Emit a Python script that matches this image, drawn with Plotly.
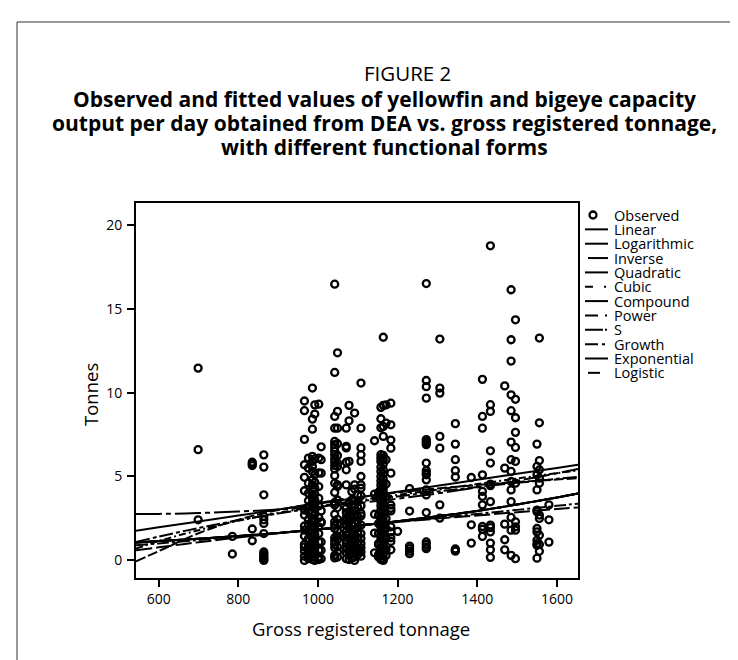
import plotly.graph_objects as go

# ---------------- observed data (GRT, tonnes/day) per vessel column ----------------
v699 = [11.46, 6.6, 2.42]
v785 = [1.43, 0.38]
v835 = [5.85, 5.75, 5.65, 1.87, 1.17]
v864 = [6.29, 5.56, 3.91, 2.62, 2.42, 2.2, 1.6, 0.5, 0.38, 0.27, 0.16, 0.06, 0.0]
v966 = [9.5, 8.92, 7.21, 5.7, 4.95, 4.15, 3.0, 2.7, 2.05, 1.8, 1.45, 0.95, 0.8, 0.55, 0.25, 0.0]
v976 = [6.1, 5.5, 4.6, 4.0, 3.55, 3.2, 2.9, 2.45, 2.15, 1.75, 1.3, 0.9, 0.65, 0.35, 0.1]
v986 = [10.27, 8.42, 7.82, 6.2, 5.9, 5.6, 5.3, 4.8, 4.5, 4.2, 3.9, 3.7, 3.45, 3.3, 2.85, 2.5,
        2.3, 2.05, 1.7, 1.45, 1.2, 0.95, 0.7, 0.45, 0.2, 0.05]
v992 = [9.27, 8.72, 6.05, 5.1, 4.65, 4.3, 3.95, 3.6, 3.35, 3.05, 2.75, 2.4, 2.1, 1.85, 1.55,
        1.25, 1.0, 0.75, 0.5, 0.25, 0.0]
v1002 = [9.31, 6.1, 5.22, 4.4, 3.7, 3.25, 2.55, 2.0, 1.6, 1.1, 0.6, 0.2, 0.05]
v1008 = [6.77, 6.0, 5.2, 2.95, 2.3, 2.25, 1.1, 0.6, 0.1]
v1042 = [16.46, 11.2, 8.58, 7.88, 7.09, 6.9, 6.7, 6.5, 6.3, 6.05, 5.85, 5.65, 5.45, 5.05, 4.6,
         4.05, 3.45, 3.3, 2.75, 2.3, 2.1, 1.9, 1.35, 1.15, 0.95, 0.75, 0.3, 0.15]
v1049 = [12.37, 8.88, 7.88, 6.95, 6.25, 5.8, 5.6, 4.5, 4.4, 3.6, 3.15, 2.45, 2.2, 1.75, 1.45,
         1.25, 0.8, 0.5, 0.2]
v1071 = [7.88, 6.8, 6.7, 5.85, 5.4, 4.5, 3.1, 2.85, 2.55, 2.35, 2.1, 1.7, 1.5, 1.2, 1.0, 0.7,
         0.45, 0.1]
v1078 = [9.24, 8.32, 5.9, 3.4, 2.9, 2.6, 2.3, 1.95, 1.55, 1.3, 0.85, 0.6, 0.3, 0.05]
v1085 = [4.1, 3.6, 3.3, 2.75, 2.45, 2.1, 1.8, 1.4, 1.05, 0.75, 0.4, 0.15]
v1092 = [8.78, 4.5, 4.25, 3.55, 3.3, 2.95, 2.7, 2.2, 1.85, 1.55, 1.25, 1.0, 0.7, 0.5, 0.2, 0.0]
v1100 = [3.9, 3.5, 3.15, 2.6, 2.35, 1.95, 1.65, 1.35, 1.05, 0.65, 0.35]
v1108 = [10.57, 7.88, 6.7, 6.3, 5.9, 5.0, 4.5, 4.3, 3.85, 3.25, 2.8, 2.65, 2.1, 1.6, 1.3, 1.0,
         0.75, 0.5, 0.25]
v1142 = [7.13, 3.95, 2.75, 1.63, 0.45]
v1152 = [4.05, 3.9, 2.7, 2.2, 1.6, 1.0, 0.95, 0.35, 0.2]
v1158 = [9.12, 8.44, 7.9, 6.3, 6.1, 5.9, 5.55, 5.3, 5.0, 4.75, 4.5, 4.25, 4.0, 3.75, 3.5, 3.25,
         3.0, 2.75, 2.5, 2.25, 2.0, 1.75, 1.5, 1.25, 1.0, 0.75, 0.5, 0.25, 0.05]
v1164 = [13.3, 9.24, 7.98, 7.39, 6.25, 6.0, 5.75, 5.4, 5.15, 4.85, 4.6, 4.35, 4.1, 3.85, 3.6,
         3.35, 3.1, 2.85, 2.6, 2.35, 2.1, 1.85, 1.6, 1.35, 1.1, 0.85, 0.6, 0.35, 0.1, 0.0]
v1171 = [9.27, 8.18, 6.0, 4.55, 3.8, 2.5, 1.9, 1.3, 0.65, 0.3]
v1183 = [9.37, 8.08, 7.17, 6.69, 5.2, 3.3, 3.1, 2.95, 2.0, 1.7, 1.35, 1.13, 0.63]
v1200 = [1.73]
v1230 = [4.28, 2.94, 0.85, 0.7, 0.55, 0.4]
v1272 = [16.5, 10.72, 10.35, 9.67, 7.2, 7.1, 7.0, 6.9, 5.8, 5.35, 5.2, 5.1, 4.8, 4.2, 3.9, 2.85,
         1.1, 0.95, 0.8, 0.7]
v1306 = [13.19, 10.27, 9.97, 7.39, 6.69, 3.31, 2.52]
v1345 = [8.15, 6.93, 6.0, 5.35, 4.97, 0.68, 0.6, 0.55]
v1385 = [4.94, 2.12, 1.03]
v1413 = [10.79, 8.58, 7.88, 5.1, 4.11, 3.81, 3.31, 2.02, 1.85, 1.43]
v1433 = [18.75, 9.28, 8.88, 6.53, 5.8, 4.55, 4.45, 3.5, 2.1, 1.95, 1.7, 1.03, 0.63, 0.18]
v1469 = [10.4, 5.5, 2.16, 1.23, 0.63]
v1485 = [16.13, 13.15, 11.88, 9.87, 8.92, 7.05, 6.0, 5.3, 4.7, 4.2, 3.5, 2.56, 1.8, 0.3]
v1496 = [14.34, 9.6, 8.5, 7.63, 6.73, 5.9, 4.6, 2.3, 2.0, 1.8, 0.1]
v1550 = [6.93, 5.6, 5.1, 4.2, 3.0, 2.9, 1.9, 1.7, 1.2, 1.0, 0.9, 0.13]
v1556 = [13.25, 8.2, 5.95, 5.4, 4.9, 4.6, 2.7, 2.5, 1.5, 0.95, 0.54]
v1580 = [3.31, 2.42, 1.09]

vessel_grt = [699, 785, 835, 864, 966, 976, 986, 992, 1002, 1008, 1042, 1049, 1071, 1078,
              1085, 1092, 1100, 1108, 1142, 1152, 1158, 1164, 1171, 1183, 1200, 1230, 1272,
              1306, 1345, 1385, 1413, 1433, 1469, 1485, 1496, 1550, 1556, 1580]
vessel_obs = [v699, v785, v835, v864, v966, v976, v986, v992, v1002, v1008, v1042, v1049,
              v1071, v1078, v1085, v1092, v1100, v1108, v1142, v1152, v1158, v1164, v1171,
              v1183, v1200, v1230, v1272, v1306, v1345, v1385, v1413, v1433, v1469, v1485,
              v1496, v1550, v1556, v1580]

# ---------------- fitted curves ----------------
fit_x = [543, 600, 700, 800, 900, 1000, 1100, 1200, 1300, 1400, 1500, 1600, 1653]
linear = [1.77, 1.97, 2.32, 2.67, 3.03, 3.38, 3.74, 4.09, 4.45, 4.80, 5.16, 5.51, 5.70]
logarithmic = [1.10, 1.42, 1.93, 2.39, 2.79, 3.16, 3.50, 3.81, 4.10, 4.37, 4.62, 4.86, 4.98]
inverse = [-0.05, 0.55, 1.62, 2.43, 3.00, 3.42, 3.77, 4.05, 4.29, 4.49, 4.67, 4.82, 4.90]
quadratic = [2.76, 2.77, 2.82, 2.91, 3.03, 3.20, 3.42, 3.68, 3.99, 4.35, 4.75, 5.19, 5.45]
cubic = [0.70, 1.15, 1.80, 2.36, 2.83, 3.22, 3.57, 3.90, 4.22, 4.55, 4.88, 5.20, 5.36]
compound = [1.07, 1.15, 1.29, 1.45, 1.63, 1.84, 2.07, 2.33, 2.63, 2.95, 3.33, 3.75, 3.99]
power = [0.90, 1.01, 1.21, 1.42, 1.63, 1.85, 2.07, 2.30, 2.53, 2.77, 3.01, 3.25, 3.38]
s_curve = [0.60, 0.78, 1.08, 1.36, 1.62, 1.86, 2.08, 2.29, 2.49, 2.68, 2.87, 3.06, 3.15]
growth = [1.07, 1.15, 1.29, 1.45, 1.63, 1.84, 2.07, 2.33, 2.63, 2.95, 3.33, 3.75, 3.99]
exponential = [1.07, 1.15, 1.29, 1.45, 1.63, 1.84, 2.07, 2.33, 2.63, 2.95, 3.33, 3.75, 3.99]
logistic = [1.07, 1.15, 1.29, 1.45, 1.63, 1.84, 2.07, 2.33, 2.63, 2.95, 3.33, 3.75, 3.99]

model_names = ["Linear", "Logarithmic", "Inverse", "Quadratic", "Cubic", "Compound",
               "Power", "S", "Growth", "Exponential", "Logistic"]
model_values = [linear, logarithmic, inverse, quadratic, cubic, compound, power, s_curve,
                growth, exponential, logistic]
plot_dash = ["solid", "14px,3px,4px,3px", "10px,3px", "26px,4px,5px,4px", "7px,3px,2px,3px",
             "solid", "12px,3px,3px,3px", "16px,4px", "9px,3px,4px,3px", "solid", "20px,5px"]
legend_dash = ["solid", "solid", "solid", "solid", "8px,11px,2px,3px", "solid",
               "13px,7px,2px,3px", "18px,2px,2px,3px", "13px,4px,3px,3px", "solid", "solid"]

x_ticks = [600, 800, 1000, 1200, 1400, 1600]
y_ticks = [0, 5, 10, 15, 20]

FONT = "Open Sans"

obs_x, obs_y = [], []
for g, ys in zip(vessel_grt, vessel_obs):
    obs_x += [g] * len(ys)
    obs_y += ys

fig = go.Figure()
for name, vals, dash in zip(model_names, model_values, plot_dash):
    fig.add_trace(go.Scatter(x=fit_x, y=vals, mode="lines", name=name,
                             line=dict(color="black", width=2, dash=dash, shape="spline"),
                             showlegend=False))
fig.add_trace(go.Scatter(x=obs_x, y=obs_y, mode="markers", name="Observed",
                         marker=dict(symbol="circle-open", size=7, color="black",
                                     line=dict(width=2.3, color="black")),
                         showlegend=False))

# plot area geometry (px)
L, R, T, B = 128, 570, 195, 570
W, H = R - L, B - T


def px(x):
    return (x - L) / W


def py(y):
    return (B - y) / H


annotations = []
shapes = []

# outer border
shapes.append(dict(type="rect", xref="paper", yref="paper", x0=px(9), x1=px(760),
                   y0=py(690), y1=py(14), line=dict(color="#333", width=1)))

# titles
annotations.append(dict(text="FIGURE 2", x=px(399), y=py(65), xref="paper", yref="paper",
                        showarrow=False, xanchor="center", yanchor="middle",
                        font=dict(family=FONT, size=20.5, color="black")))
title_lines = ["Observed and fitted values of yellowfin and bigeye capacity",
               "output per day obtained from DEA vs. gross registered tonnage,",
               "with different functional forms"]
for i, t in enumerate(title_lines):
    annotations.append(dict(text="<b>" + t + "</b>", x=px(376), y=py(91 + 24 * i),
                            xref="paper", yref="paper", showarrow=False,
                            xanchor="center", yanchor="middle",
                            font=dict(family=FONT, size=21, color="black")))

# axis titles
annotations.append(dict(text="Gross registered tonnage", x=px(353), y=py(620), xref="paper",
                        yref="paper", showarrow=False, xanchor="center", yanchor="middle",
                        font=dict(family=FONT, size=18.5, color="black")))
annotations.append(dict(text="Tonnes", x=px(82), y=py(387), xref="paper", yref="paper",
                        showarrow=False, xanchor="center", yanchor="middle", textangle=-90,
                        font=dict(family=FONT, size=18.5, color="black")))

# custom legend
leg_y0, leg_dy = 207, 14.35
annotations.append(dict(text="Observed", x=px(604), y=py(leg_y0), xref="paper", yref="paper",
                        showarrow=False, xanchor="left", yanchor="middle",
                        font=dict(family=FONT, size=14.5, color="black")))
r = 3.5
shapes.append(dict(type="circle", xref="paper", yref="paper", x0=px(585 - r), x1=px(585 + r),
                   y0=py(leg_y0 + r), y1=py(leg_y0 - r), line=dict(color="black", width=2.3)))
for i, (name, dash) in enumerate(zip(model_names, legend_dash)):
    yy = leg_y0 + leg_dy * (i + 1)
    annotations.append(dict(text=name, x=px(604), y=py(yy), xref="paper", yref="paper",
                            showarrow=False, xanchor="left", yanchor="middle",
                            font=dict(family=FONT, size=14.5, color="black")))
    x0, x1 = 577, 600
    if name == "Inverse":
        x0 = 580
    if name == "Logistic":
        x0, x1 = 580, 592
    shapes.append(dict(type="line", xref="paper", yref="paper", x0=px(x0), x1=px(x1),
                       y0=py(yy), y1=py(yy), line=dict(color="black", width=2, dash=dash)))

fig.update_layout(
    width=738, height=660,
    margin=dict(l=L, r=738 - R, t=T, b=660 - B, pad=0),
    paper_bgcolor="white", plot_bgcolor="white",
    showlegend=False,
    font=dict(family=FONT, color="black"),
    annotations=annotations, shapes=shapes,
    xaxis=dict(range=[543, 1653], tickvals=x_ticks, ticks="outside", ticklen=7, tickwidth=2,
               tickcolor="black", showline=True, linewidth=2, linecolor="black", mirror=True,
               showgrid=False, zeroline=False, tickfont=dict(family=FONT, size=14)),
    yaxis=dict(range=[-1.05, 21.3], tickvals=y_ticks, ticks="outside", ticklen=7, tickwidth=2,
               tickcolor="black", showline=True, linewidth=2, linecolor="black", mirror=True,
               showgrid=False, zeroline=False, tickfont=dict(family=FONT, size=14),
               ticklabelstandoff=2),
)

fig.write_html("out.html")
